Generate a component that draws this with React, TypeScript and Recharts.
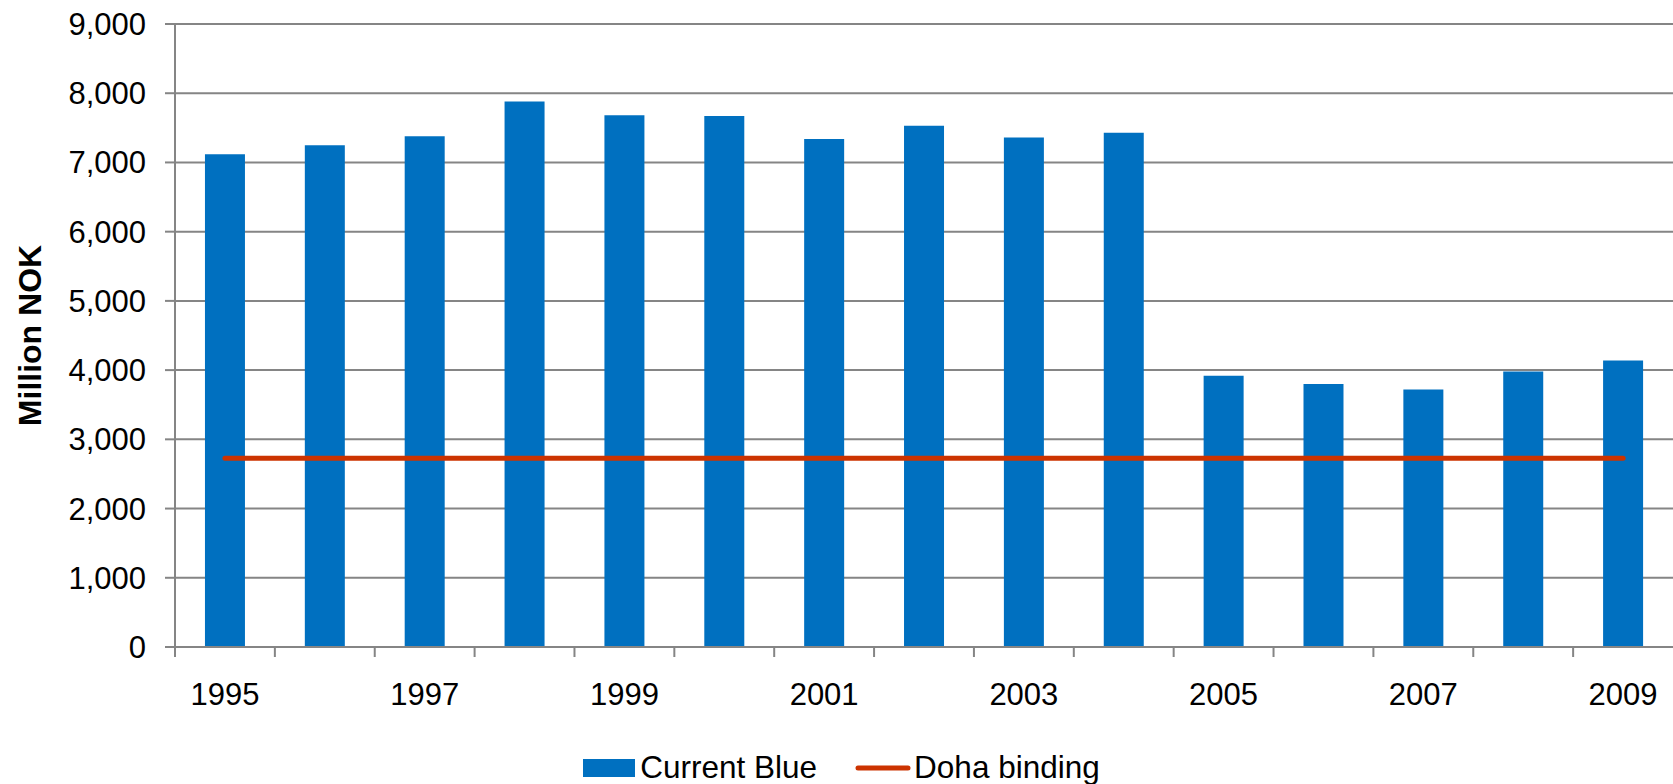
import React from 'react';
import { ComposedChart, Bar, Line, XAxis, YAxis, CartesianGrid, Legend, Label } from 'recharts';

const years = ['1995', '1996', '1997', '1998', '1999', '2000', '2001', '2002', '2003', '2004', '2005', '2006', '2007', '2008', '2009'];
const currentBlue = [7120, 7250, 7380, 7880, 7680, 7670, 7340, 7530, 7360, 7430, 3920, 3800, 3720, 3980, 4140];
const dohaBinding = [2727, 2727, 2727, 2727, 2727, 2727, 2727, 2727, 2727, 2727, 2727, 2727, 2727, 2727, 2727];
const yTicks = [0, 1000, 2000, 3000, 4000, 5000, 6000, 7000, 8000, 9000];

const data = years.map((year, i) => ({ year, blue: currentBlue[i], doha: dohaBinding[i] }));

const FONT = '"Liberation Sans", Arial, sans-serif';
const AXIS = '#858585';
const BLUE = '#0070C0';
const RED = '#CC3300';

// category ticks: boundary tick mark on the left of each band, label every other year
const YearTick = (props: any) => {
  const { x, y, payload } = props;
  const half = payload?.offset ?? 50;
  return (
    <g>
      <line x1={x - half} x2={x - half} y1={y} y2={y + 10} stroke={AXIS} strokeWidth={2} />
      {payload.index % 2 === 0 && (
        <text x={x} y={y + 58} textAnchor="middle" fill="#000" fontSize={31} fontFamily={FONT}>
          {payload.value}
        </text>
      )}
    </g>
  );
};

const YTitle = (props: any) => {
  const vb = props.viewBox;
  const cx = vb.x + 30;
  const cy = vb.y + vb.height / 2;
  return (
    <text
      x={cx}
      y={cy}
      transform={`rotate(-90, ${cx}, ${cy})`}
      textAnchor="middle"
      dominantBaseline="central"
      fontSize={32}
      fontWeight="bold"
      fontFamily={FONT}
      fill="#000"
    >
      Million NOK
    </text>
  );
};

const LegendContent = () => (
  <div style={{ display: 'flex', justifyContent: 'center', alignItems: 'center', fontFamily: FONT, fontSize: 31.5, color: '#000', paddingLeft: 10 }}>
    <div style={{ display: 'flex', alignItems: 'center' }}>
      <span style={{ display: 'inline-block', width: 52, height: 18, background: BLUE, marginRight: 5 }} />
      <span>Current Blue</span>
    </div>
    <div style={{ display: 'flex', alignItems: 'center', marginLeft: 38 }}>
      <svg width={56} height={10} style={{ marginRight: 3 }}>
        <line x1={3} x2={53} y1={5} y2={5} stroke={RED} strokeWidth={5} strokeLinecap="round" />
      </svg>
      <span>Doha binding</span>
    </div>
  </div>
);

export default function App() {
  return (
    <div style={{ position: 'absolute', left: 0, top: 0, background: '#fff' }}>
      <ComposedChart width={1673} height={784} data={data} margin={{ top: 24, right: 0, left: 0, bottom: 0 }} barCategoryGap="30%">
        <CartesianGrid horizontal vertical={false} stroke={AXIS} strokeWidth={2} />
        <XAxis
          dataKey="year"
          interval={0}
          height={101}
          tickLine={false}
          tickSize={0}
          tickMargin={0}
          axisLine={{ stroke: AXIS, strokeWidth: 2 }}
          tick={<YearTick />}
        />
        <YAxis
          width={175}
          domain={[0, 9000]}
          ticks={yTicks}
          interval={0}
          tickSize={10}
          tickMargin={19}
          tickLine={{ stroke: AXIS, strokeWidth: 2 }}
          axisLine={{ stroke: AXIS, strokeWidth: 2 }}
          tick={{ fill: '#000', fontSize: 31, fontFamily: FONT }}
          tickFormatter={(v: number) => v.toLocaleString('en-US')}
        >
          <Label content={<YTitle />} />
        </YAxis>
        <Legend verticalAlign="bottom" height={36} wrapperStyle={{ top: 749 }} content={<LegendContent />} />
        <Bar dataKey="blue" name="Current Blue" fill={BLUE} isAnimationActive={false} />
        <Line
          dataKey="doha"
          name="Doha binding"
          type="linear"
          stroke={RED}
          strokeWidth={5}
          strokeLinecap="round"
          dot={false}
          activeDot={false}
          isAnimationActive={false}
        />
      </ComposedChart>
    </div>
  );
}
